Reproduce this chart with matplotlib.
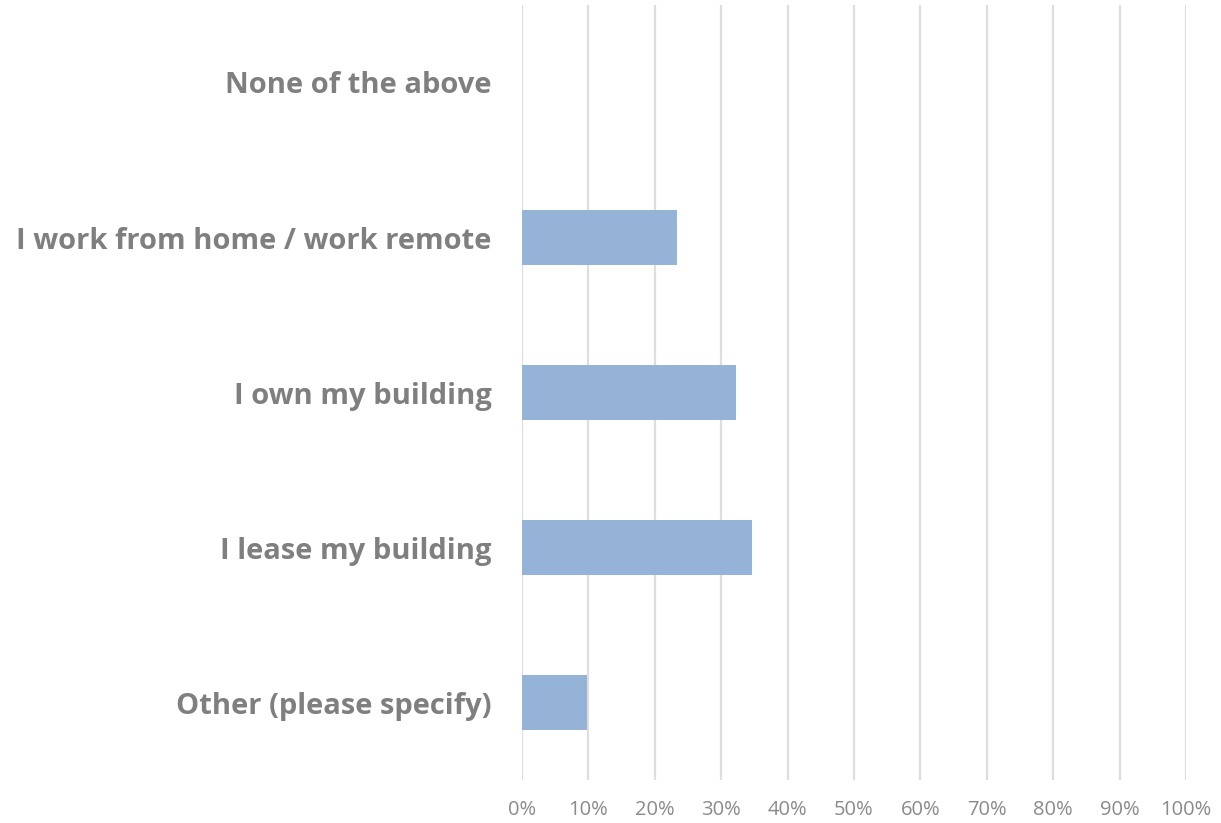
import matplotlib.pyplot as plt
import numpy as np

# survey answers, listed top to bottom
categories = ["None of the above", "I work from home / work remote",
              "I own my building", "I lease my building", "Other (please specify)"]
shares = [0.0, 23.3, 32.2, 34.6, 9.8]
ticks = list(range(0, 101, 10))
tick_labels = [f"{t}%" for t in ticks]

plt.rcParams['font.family'] = ['Open Sans', 'DejaVu Sans']

fig = plt.figure(figsize=(12.21, 8.23), dpi=100)
ax = fig.add_axes([0.4275, 0.052, 0.5438, 0.942])

y = np.arange(len(categories))
ax.barh(y, shares, height=0.355, color='#95B3D7', zorder=3)
ax.set_ylim(len(categories) - 0.5, -0.5)
ax.set_xlim(0, 100)

ax.set_yticks(y)
ax.set_yticklabels(categories, fontsize=21, fontweight='bold', color='#7f7f7f')
ax.set_xticks(ticks)
ax.set_xticklabels(tick_labels, fontsize=14.5, color='#8a8a8a')
ax.tick_params(axis='y', length=0, pad=22)
ax.tick_params(axis='x', length=0, pad=14)

ax.grid(axis='x', color='#dedede', linewidth=1.6, zorder=0)
for s in ax.spines.values():
    s.set_visible(False)

fig.savefig('out.png', dpi=100, facecolor='white')
